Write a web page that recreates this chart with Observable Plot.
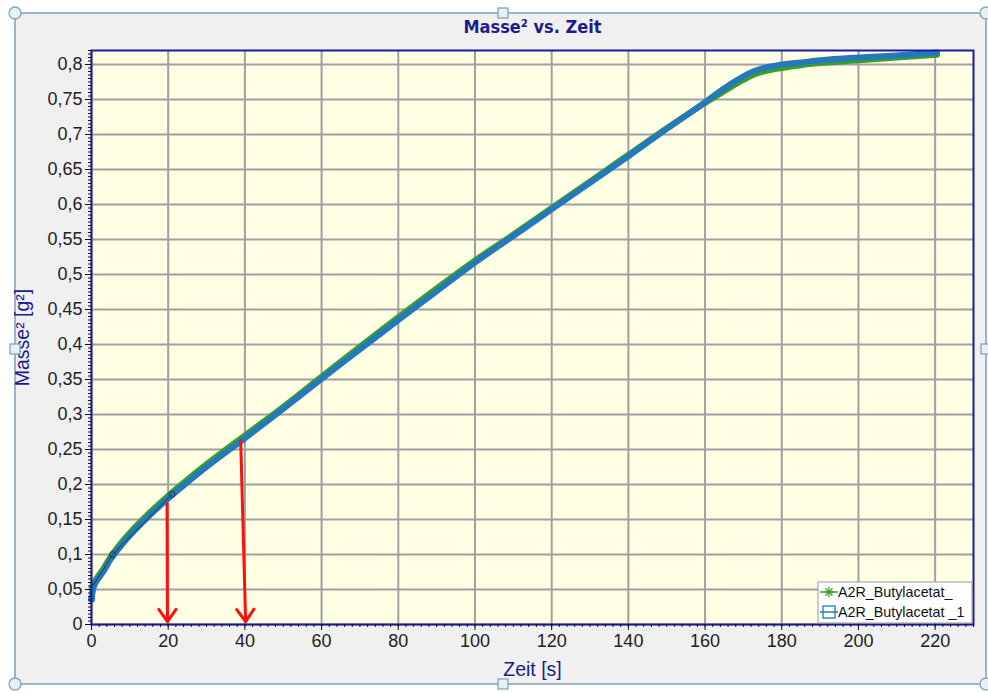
<!DOCTYPE html>
<html>
<head>
<meta charset="utf-8">
<script src="https://cdn.jsdelivr.net/npm/d3@7"></script>
<script src="https://cdn.jsdelivr.net/npm/@observablehq/plot@0.6"></script>
<style>
  html, body { margin: 0; padding: 0; background: #ffffff; }
  #chart { position: relative; width: 988px; height: 693px; }
</style>
</head>
<body>
<div id="chart"></div>
<script>
// ---- data ----
const zeit = [0, 0.5, 1, 2, 3, 5, 7.5, 10, 15, 20, 25, 30, 40, 50, 60, 70, 80, 90, 100, 110, 120, 130, 140, 150, 160, 165, 170, 173, 176, 180, 185, 190, 200, 210, 220.5];
const masseBlau = [0.036, 0.052, 0.059, 0.067, 0.075, 0.093, 0.111, 0.127, 0.155, 0.180, 0.203, 0.225, 0.266, 0.308, 0.351, 0.393, 0.435, 0.476, 0.517, 0.555, 0.593, 0.631, 0.669, 0.708, 0.746, 0.766, 0.783, 0.791, 0.796, 0.800, 0.803, 0.806, 0.810, 0.813, 0.817];
const masseGruen = [0.05, 0.058, 0.063, 0.071, 0.079, 0.097, 0.115, 0.131, 0.159, 0.184, 0.207, 0.229, 0.270, 0.311, 0.354, 0.397, 0.439, 0.480, 0.520, 0.557, 0.595, 0.633, 0.671, 0.709, 0.745, 0.762, 0.778, 0.786, 0.791, 0.795, 0.799, 0.802, 0.806, 0.810, 0.814];
const trendT = [0.5, 5.5, 21];
const trendM = [0.056, 0.1, 0.186];
const pfeilX1 = [19.7, 38.9];
const pfeilY1 = [0.172, 0.263];
const pfeilX2 = [19.8, 40.2];
const pfeilY2 = [0.004, 0.004];
const xTicks = d3.range(0, 221, 20);
const xMinor = d3.range(0, 231, 2);
const yTicks = d3.range(0, 17).map(i => +(i * 0.05).toFixed(2));
const yMinor = d3.range(0, 165).map(i => +(i * 0.005).toFixed(3));
const seriesNames = ["A2R_Butylacetat_", "A2R_Butylacetat _1"];
const titleText = "Masse² vs. Zeit";
const xLabel = "Zeit [s]";
const yLabel = "Masse² [g²]";

const blau = zeit.map((t, i) => ({t, m: masseBlau[i]}));
const gruen = zeit.map((t, i) => ({t, m: masseGruen[i]}));
const trend = trendT.map((t, i) => ({t, m: trendM[i]}));
const pfeile = pfeilX1.map((x, i) => ({x1: x, y1: pfeilY1[i], x2: pfeilX2[i], y2: pfeilY2[i]}));

const fmtY = d => d === 0 ? "0" : String(+d.toFixed(2)).replace(".", ",");
const navy = "#1c1c8a";
const font = "'Liberation Sans', Arial, sans-serif";

const chart = Plot.plot({
  width: 988,
  height: 693,
  marginLeft: 91,
  marginRight: 15,
  marginTop: 50,
  marginBottom: 69,
  x: {domain: [0, 230]},
  y: {domain: [0, 0.82]},
  style: {fontFamily: font, background: "transparent", overflow: "visible"},
  marks: [
    Plot.frame({fill: "#ffffe3", stroke: null}),
    Plot.gridX(xTicks, {stroke: "#a0a0a0", strokeOpacity: 1, strokeWidth: 2}),
    Plot.gridY(yTicks, {stroke: "#a0a0a0", strokeOpacity: 1, strokeWidth: 2}),
    Plot.line(gruen, {x: "t", y: "m", stroke: "#3a9e2a", strokeWidth: 6, strokeLinejoin: "round", curve: "monotone-x"}),
    Plot.line(blau, {x: "t", y: "m", stroke: "#2479bd", strokeWidth: 6, strokeLinejoin: "round", curve: "monotone-x"}),
    Plot.line(trend, {x: "t", y: "m", stroke: "#1d3a4a", strokeWidth: 1}),
    Plot.dot(trend.slice(1), {x: "t", y: "m", r: 3, stroke: "#1d3a4a", strokeWidth: 1, fill: "none"}),
    Plot.dot(blau.slice(0, 1), {x: "t", y: "m", r: 3.5, fill: "#2479bd"}),
    Plot.arrow(pfeile, {x1: "x1", y1: "y1", x2: "x2", y2: "y2", stroke: "#ff1010", strokeWidth: 3, headLength: 7.5, headAngle: 70}),
    Plot.frame({stroke: "#1a1aa0", strokeWidth: 2}),
    Plot.axisX(xMinor, {tickSize: 3, tickFormat: () => "", stroke: "#111"}),
    Plot.axisX(xTicks, {tickSize: 6, tickPadding: 4, fontSize: 18, tickFormat: d => String(d), fill: "#222", stroke: "#111", label: null}),
    Plot.axisY(yMinor, {tickSize: 3, tickFormat: () => "", stroke: "#111"}),
    Plot.axisY(yTicks, {tickSize: 6, tickPadding: 3, fontSize: 18, tickFormat: fmtY, fill: "#222", stroke: "#111", label: null}),
    Plot.text([titleText], {frameAnchor: "top", dy: -23, lineAnchor: "middle", text: d => d, fontSize: 18, fontWeight: "bold", fill: navy, fontFamily: "'Liberation Sans Narrow', 'DejaVu Sans Condensed', Arial, sans-serif"}),
    Plot.text([xLabel], {frameAnchor: "bottom", dy: 45, lineAnchor: "middle", textAnchor: "middle", text: d => d, fontSize: 19.5, fill: navy}),
    Plot.text([yLabel], {frameAnchor: "left", dx: -69, rotate: -90, textAnchor: "middle", lineAnchor: "middle", text: d => d, fontSize: 19.5, fill: navy})
  ]
});

document.getElementById("chart").appendChild(chart);

// ---- outer selection border with handles, and legend ----
const svg = d3.select(chart);
svg.insert("rect", ":first-child")
  .attr("x", 15).attr("y", 13).attr("width", 971).attr("height", 671)
  .attr("fill", "#f0f0f0").attr("stroke", "#7f9db9").attr("stroke-width", 1.5);
const handles = svg.append("g").attr("fill", "#e4f1f8").attr("stroke", "#86a3ba").attr("stroke-width", 1.3);
[[15, 13], [986, 13], [15, 684], [986, 684]].forEach(([x, y]) =>
  handles.append("circle").attr("cx", x).attr("cy", y).attr("r", 6));
[[503, 13], [503, 684], [15, 349], [986, 349]].forEach(([x, y]) =>
  handles.append("rect").attr("x", x - 5).attr("y", y - 5).attr("width", 10).attr("height", 10));

const lg = svg.append("g").attr("text-anchor", "start");
lg.append("rect").attr("x", 818).attr("y", 582).attr("width", 154).attr("height", 41)
  .attr("fill", "#ffffff").attr("stroke", "#9a9a9a").attr("stroke-width", 1);
const legendColors = ["#3a9e2a", "#2479bd"];
seriesNames.forEach((name, i) => {
  const y = 592 + i * 20;
  lg.append("line").attr("x1", 820).attr("x2", 838).attr("y1", y).attr("y2", y)
    .attr("stroke", legendColors[i]).attr("stroke-width", 1.5);
  if (i === 0) {
    const g = lg.append("g").attr("stroke", legendColors[i]).attr("stroke-width", 1.3);
    [[-5, 0, 5, 0], [0, -5, 0, 5], [-3.5, -3.5, 3.5, 3.5], [-3.5, 3.5, 3.5, -3.5]].forEach(([a, b, c, d]) =>
      g.append("line").attr("x1", 829 + a).attr("y1", y + b).attr("x2", 829 + c).attr("y2", y + d));
  } else {
    lg.append("rect").attr("x", 823).attr("y", y - 6).attr("width", 12).attr("height", 12)
      .attr("fill", "none").attr("stroke", legendColors[i]).attr("stroke-width", 1.3);
  }
  lg.append("text").attr("x", 838).attr("y", y + 5).attr("font-size", 14.3)
    .attr("text-anchor", "start")
    .attr("font-family", font).attr("fill", "#111").text(name);
});
</script>
</body>
</html>
